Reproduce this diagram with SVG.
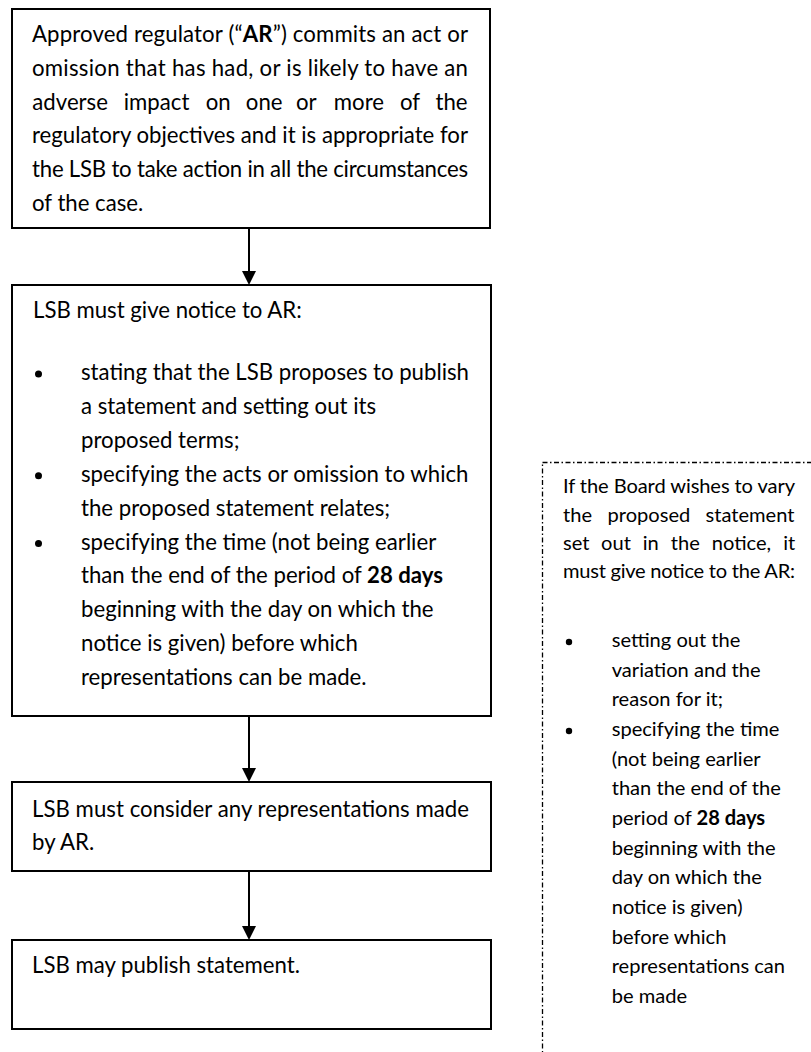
<svg xmlns="http://www.w3.org/2000/svg" width="811" height="1052" viewBox="0 0 811 1052">
<style>
.box{fill:#fff;stroke:#000;stroke-width:2}
.note{fill:none;stroke:#000;stroke-width:1.3;stroke-dasharray:5 2.5 1.5 2.5}
.t{font-family:Lato,"Liberation Sans",sans-serif;font-size:22.2px;fill:#000}
.s{font-family:Lato,"Liberation Sans",sans-serif;font-size:20.1px;fill:#000}
.b{font-weight:700}
.conn{stroke:#000;stroke-width:2;fill:none}
</style>
<defs>
<marker id="ah" markerUnits="userSpaceOnUse" markerWidth="14" markerHeight="14" refX="9" refY="7" orient="auto">
<path d="M0,0 L14,7 L0,14 z" fill="#000"/>
</marker>
</defs>
<rect x="0" y="0" width="811" height="1052" fill="#fff"/>

<g id="connectors">
<line class="conn" x1="249" y1="229" x2="249" y2="280" marker-end="url(#ah)"/>
<line class="conn" x1="249" y1="717" x2="249" y2="777" marker-end="url(#ah)"/>
<line class="conn" x1="249" y1="872" x2="249" y2="935" marker-end="url(#ah)"/>
</g>

<g id="n1">
<rect class="box" x="12" y="9" width="478" height="219"/>
<text class="t" x="32" y="42.3" textLength="436" lengthAdjust="spacing">Approved regulator (“<tspan class="b">AR</tspan>”) commits an act or</text>
<text class="t" x="32" y="76" textLength="436" lengthAdjust="spacing">omission that has had, or is likely to have an</text>
<text class="t" y="109.7"><tspan x="32.3">adverse</tspan><tspan x="123.8">impact</tspan><tspan x="205.7">on</tspan><tspan x="245.8">one</tspan><tspan x="296">or</tspan><tspan x="333.8">more</tspan><tspan x="400">of</tspan><tspan x="435.5">the</tspan></text>
<text class="t" x="32" y="143.4" textLength="436" lengthAdjust="spacing">regulatory objectives and it is appropriate for</text>
<text class="t" x="32" y="177.1" textLength="436" lengthAdjust="spacing">the LSB to take action in all the circumstances</text>
<text class="t" x="32" y="210.8">of the case.</text>
</g>

<g id="n2">
<rect class="box" x="12" y="285" width="479" height="431"/>
<text class="t" x="33" y="318">LSB must give notice to AR:</text>
<circle cx="38.5" cy="374" r="3.5"/>
<circle cx="38.5" cy="475.7" r="3.5"/>
<circle cx="38.5" cy="543.5" r="3.5"/>
<text class="t" x="81" y="380">stating that the LSB proposes to publish</text>
<text class="t" x="81" y="413.9">a statement and setting out its</text>
<text class="t" x="81" y="447.8">proposed terms;</text>
<text class="t" x="81" y="481.7">specifying the acts or omission to which</text>
<text class="t" x="81" y="515.6">the proposed statement relates;</text>
<text class="t" x="81" y="549.5">specifying the time (not being earlier</text>
<text class="t" x="81" y="583.4">than the end of the period of <tspan class="b">28 days</tspan></text>
<text class="t" x="81" y="617.3">beginning with the day on which the</text>
<text class="t" x="81" y="651.2">notice is given) before which</text>
<text class="t" x="81" y="685.1">representations can be made.</text>
</g>

<g id="n3">
<rect class="box" x="12" y="782" width="479" height="89"/>
<text class="t" x="32" y="816.5" textLength="437" lengthAdjust="spacing">LSB must consider any representations made</text>
<text class="t" x="32" y="850">by AR.</text>
</g>

<g id="n4">
<rect class="box" x="12" y="940" width="479" height="89"/>
<text class="t" x="32" y="973">LSB may publish statement.</text>
</g>

<g id="note">
<rect class="note" x="542.5" y="462.5" width="320" height="640"/>
<text class="s" x="563" y="493.3" textLength="232" lengthAdjust="spacing">If the Board wishes to vary</text>
<text class="s" y="521.5"><tspan x="563">the</tspan><tspan x="607.5">proposed</tspan><tspan x="705.5">statement</tspan></text>
<text class="s" y="549.7"><tspan x="563">set</tspan><tspan x="601.1">out</tspan><tspan x="642.7">in</tspan><tspan x="670.8">the</tspan><tspan x="711.8">notice,</tspan><tspan x="783.2">it</tspan></text>
<text class="s" x="563" y="577.9" textLength="232" lengthAdjust="spacing">must give notice to the AR:</text>
<circle cx="569" cy="642" r="3.2"/>
<circle cx="569" cy="731" r="3.2"/>
<text class="s" x="611.7" y="647">setting out the</text>
<text class="s" x="611.7" y="676.6">variation and the</text>
<text class="s" x="611.7" y="706.3">reason for it;</text>
<text class="s" x="611.7" y="736">specifying the time</text>
<text class="s" x="611.7" y="765.6">(not being earlier</text>
<text class="s" x="611.7" y="795.2">than the end of the</text>
<text class="s" x="611.7" y="824.9">period of <tspan class="b">28 days</tspan></text>
<text class="s" x="611.7" y="854.5">beginning with the</text>
<text class="s" x="611.7" y="884.2">day on which the</text>
<text class="s" x="611.7" y="913.8">notice is given)</text>
<text class="s" x="611.7" y="943.5">before which</text>
<text class="s" x="611.7" y="973.1">representations can</text>
<text class="s" x="611.7" y="1002.8">be made</text>
</g>
</svg>
